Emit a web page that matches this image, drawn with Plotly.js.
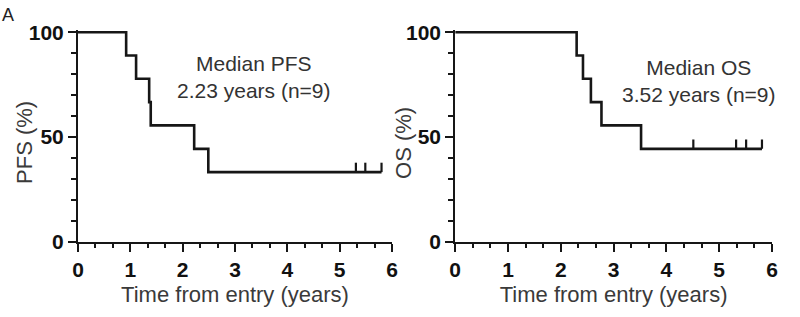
<!DOCTYPE html>
<html>
<head>
<meta charset="utf-8">
<script src="https://cdn.plot.ly/plotly-3.0.1.min.js"></script>
<style>
html,body{margin:0;padding:0;background:#fff;}
#chart{width:800px;height:317px;}
</style>
</head>
<body>
<div id="chart"></div>
<script>
// PFS Kaplan-Meier (years, % surviving)
var pfsTimes = [0, 0.92, 1.11, 1.36, 1.39, 2.22, 2.49, 5.80];
var pfsSurv  = [100, 88.9, 77.8, 66.7, 55.6, 44.4, 33.3, 33.3];
var pfsCensorTimes = [5.31, 5.49, 5.80];
var pfsCensorSurv  = [33.3, 33.3, 33.3];

// OS Kaplan-Meier
var osTimes = [0, 2.30, 2.42, 2.57, 2.77, 3.52, 5.81];
var osSurv  = [100, 88.9, 77.8, 66.7, 55.6, 44.4, 44.4];
var osCensorTimes = [4.51, 5.32, 5.51, 5.81];
var osCensorSurv  = [44.4, 44.4, 44.4, 44.4];

var xTickVals = [0, 1, 2, 3, 4, 5, 6];
var yTickVals = [0, 50, 100];

var panelLabel = "A";
var pfsNote = "Median PFS<br>2.23 years (n=9)";
var osNote = "Median OS<br>3.52 years (n=9)";
var xTitle = "Time from entry (years)";
var pfsYTitle = "PFS (%)";
var osYTitle = "OS (%)";

var INK = "#161616";
var FONT = 'Liberation Sans, Arial, sans-serif';
var censorHeight = 4.5;

function censorSegments(times, surv) {
  var xs = [], ys = [];
  for (var i = 0; i < times.length; i++) {
    xs.push(times[i], times[i], null);
    ys.push(surv[i], surv[i] + censorHeight, null);
  }
  return {x: xs, y: ys};
}

var pc = censorSegments(pfsCensorTimes, pfsCensorSurv);
var oc = censorSegments(osCensorTimes, osCensorSurv);

var lineStyle = {color: INK, width: 2.6, shape: 'hv'};
var censorStyle = {color: INK, width: 2.2};

var traces = [
  {x: pfsTimes, y: pfsSurv, mode: 'lines', line: lineStyle, xaxis: 'x', yaxis: 'y', hoverinfo: 'skip'},
  {x: pc.x, y: pc.y, mode: 'lines', line: censorStyle, xaxis: 'x', yaxis: 'y', hoverinfo: 'skip'},
  {x: osTimes, y: osSurv, mode: 'lines', line: lineStyle, xaxis: 'x2', yaxis: 'y2', hoverinfo: 'skip'},
  {x: oc.x, y: oc.y, mode: 'lines', line: censorStyle, xaxis: 'x2', yaxis: 'y2', hoverinfo: 'skip'}
];

var tickFont = {family: FONT, size: 21, color: '#111', weight: 'bold'};
var titleFont = {family: FONT, size: 22, color: '#3a3a3a'};
var noteFont = {family: FONT, size: 21, color: '#333'};

function xAxis(domain) {
  return {
    domain: domain, range: [0, 6], tickvals: xTickVals, ticktext: xTickVals.map(String),
    showline: true, linecolor: INK, linewidth: 2, ticks: 'outside', ticklen: 8, tickwidth: 2, tickcolor: INK,
    minor: {dtick: 1/3, ticks: 'outside', ticklen: 4, tickwidth: 2, tickcolor: INK, showgrid: false},
    showgrid: false, zeroline: false, tickfont: tickFont,
    title: {text: xTitle, font: titleFont, standoff: 6}, fixedrange: true
  };
}
function yAxis(domain, anchor) {
  return {
    domain: domain, range: [0, 101], anchor: anchor, tickvals: yTickVals, ticktext: yTickVals.map(String),
    showline: true, linecolor: INK, linewidth: 2, ticks: 'outside', ticklen: 8, tickwidth: 2, tickcolor: INK,
    minor: {dtick: 10, ticks: 'outside', ticklen: 5, tickwidth: 2, tickcolor: INK, showgrid: false},
    showgrid: false, zeroline: false, tickfont: tickFont, fixedrange: true
  };
}

var layout = {
  width: 800, height: 317,
  margin: {l: 0, r: 0, t: 0, b: 0},
  paper_bgcolor: '#fff', plot_bgcolor: '#fff',
  showlegend: false,
  xaxis: Object.assign(xAxis([0.0975, 0.49]), {anchor: 'y'}),
  yaxis: yAxis([0.2366, 0.905], 'x'),
  xaxis2: Object.assign(xAxis([0.569, 0.965]), {anchor: 'y2'}),
  yaxis2: yAxis([0.2366, 0.905], 'x2'),
  annotations: [
    {text: panelLabel, xref: 'paper', yref: 'paper', x: 0.0, y: 0.99, xanchor: 'left', yanchor: 'top',
     showarrow: false, font: {family: FONT, size: 18, color: '#222'}},
    {text: pfsYTitle, xref: 'paper', yref: 'paper', x: 25/800, y: 0.549, xanchor: 'center', yanchor: 'middle',
     textangle: -90, showarrow: false, font: titleFont},
    {text: osYTitle, xref: 'paper', yref: 'paper', x: 404/800, y: 0.549, xanchor: 'center', yanchor: 'middle',
     textangle: -90, showarrow: false, font: titleFont},
    {text: pfsNote, xref: 'x', yref: 'y', x: 3.37, y: 78.5, xanchor: 'center', yanchor: 'middle',
     showarrow: false, font: noteFont},
    {text: osNote, xref: 'x2', yref: 'y2', x: 4.62, y: 76.7, xanchor: 'center', yanchor: 'middle',
     showarrow: false, font: noteFont}
  ]
};

Plotly.newPlot('chart', traces, layout, {displayModeBar: false, staticPlot: true});
</script>
</body>
</html>
